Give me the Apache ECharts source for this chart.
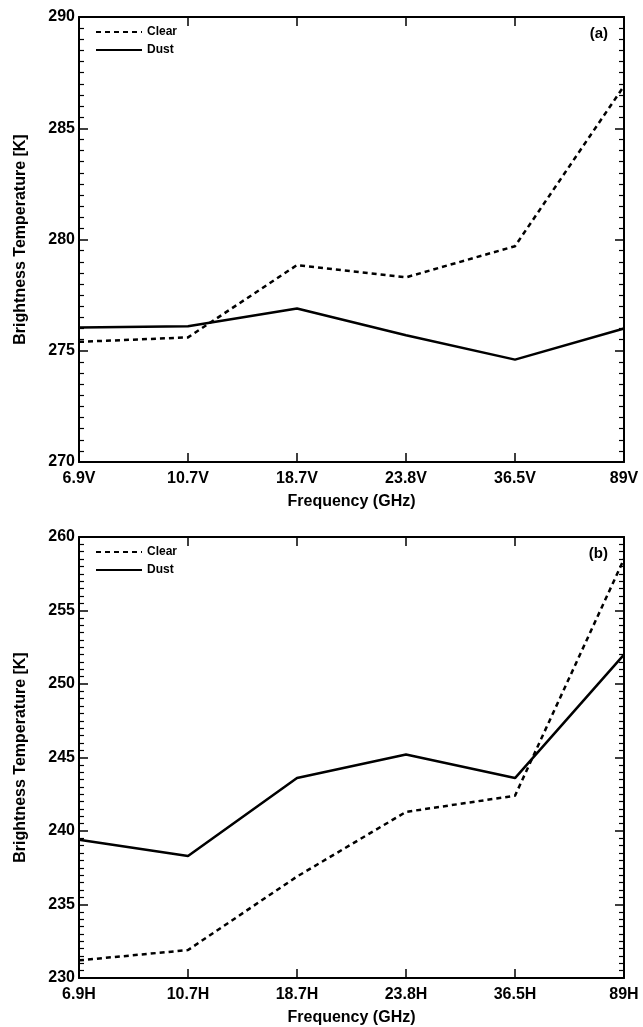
<!DOCTYPE html>
<html>
<head>
<meta charset="utf-8">
<script src="https://cdn.jsdelivr.net/npm/echarts@6/dist/echarts.min.js"></script>
<style>
html,body{margin:0;padding:0;background:#fff;}
#chart{width:643px;height:1027px;}
</style>
</head>
<body>
<div id="chart"></div>
<script>
const catsV = ['6.9V','10.7V','18.7V','23.8V','36.5V','89V'];
const catsH = ['6.9H','10.7H','18.7H','23.8H','36.5H','89H'];
const clearV = [275.4, 275.6, 278.85, 278.3, 279.7, 286.9];
const dustV  = [276.05, 276.1, 276.9, 275.7, 274.6, 276.0];
const clearH = [231.2, 231.9, 236.9, 241.3, 242.4, 258.5];
const dustH  = [239.4, 238.3, 243.6, 245.2, 243.6, 252.0];
const yTicksA = {min: 270, max: 290, interval: 5};
const yTicksB = {min: 230, max: 260, interval: 5};

const FONT = 'Liberation Sans';
const G = [
  {left: 79, right: 19, top: 17, height: 445},
  {left: 79, right: 19, top: 537, height: 445}
];

function xAx(gi, cats, top) {
  return {
    type: 'category', gridIndex: gi, data: cats, boundaryGap: false,
    position: top ? 'top' : 'bottom',
    name: top ? '' : 'Frequency (GHz)', nameLocation: 'middle', nameGap: 32,
    nameTextStyle: {fontFamily: FONT, fontWeight: 'bold', fontSize: 16, color: '#000'},
    axisLine: {show: true, lineStyle: {color: '#000', width: 2}},
    axisTick: {show: true, inside: true, length: 9, alignWithLabel: true, lineStyle: {color: '#000', width: 1.5}},
    axisLabel: {show: !top, fontFamily: FONT, fontWeight: 'bold', fontSize: 16, color: '#000', margin: 9, interval: 0},
    splitLine: {show: false}
  };
}
function yAx(gi, t, right) {
  return {
    type: 'value', gridIndex: gi, min: t.min, max: t.max, interval: t.interval,
    position: right ? 'right' : 'left',
    name: right ? '' : 'Brightness Temperature [K]', nameLocation: 'middle', nameGap: 50,
    nameTextStyle: {fontFamily: FONT, fontWeight: 'bold', fontSize: 16, color: '#000'},
    axisLine: {show: true, lineStyle: {color: '#000', width: 2}},
    axisTick: {show: true, inside: true, length: 9, lineStyle: {color: '#000', width: 1.5}},
    minorTick: {show: true, splitNumber: 10, length: 5, lineStyle: {color: '#000', width: 1.2}},
    axisLabel: {show: !right, fontFamily: FONT, fontWeight: 'bold', fontSize: 16, color: '#000', margin: 4},
    splitLine: {show: false}
  };
}
function ser(name, data, xi, yi, dashed) {
  return {
    name: name, type: 'line', data: data, xAxisIndex: xi, yAxisIndex: yi,
    symbol: 'none', animation: false,
    lineStyle: {color: '#000', width: 2.5, type: dashed ? [5, 4] : 'solid'},
    itemStyle: {color: '#000'}
  };
}
function legend(gi) {
  return {
    data: ['Clear', 'Dust'], orient: 'vertical',
    left: G[gi].left + 11, top: G[gi].top + 4,
    itemWidth: 46, itemHeight: 12, itemGap: 6,
    itemStyle: {color: 'rgba(0,0,0,0)', borderWidth: 0, borderColor: 'rgba(0,0,0,0)'},
    textStyle: {fontFamily: FONT, fontWeight: 'bold', fontSize: 12, color: '#000'},
    selectedMode: false
  };
}
const chart = echarts.init(document.getElementById('chart'), null, {renderer: 'canvas'});
chart.setOption({
  backgroundColor: '#fff',
  animation: false,
  grid: G,
  xAxis: [xAx(0, catsV, false), xAx(0, catsV, true), xAx(1, catsH, false), xAx(1, catsH, true)],
  yAxis: [yAx(0, yTicksA, false), yAx(0, yTicksA, true), yAx(1, yTicksB, false), yAx(1, yTicksB, true)],
  legend: [legend(0), legend(1)],
  title: [
    {text: '(a)', right: 30, top: G[0].top + 4, textStyle: {fontFamily: FONT, fontWeight: 'bold', fontSize: 15, color: '#000'}},
    {text: '(b)', right: 30, top: G[1].top + 4, textStyle: {fontFamily: FONT, fontWeight: 'bold', fontSize: 15, color: '#000'}}
  ],
  series: [
    ser('Clear', clearV, 0, 0, true),
    ser('Dust', dustV, 0, 0, false),
    ser('Clear', clearH, 2, 2, true),
    ser('Dust', dustH, 2, 2, false)
  ]
});
</script>
</body>
</html>
